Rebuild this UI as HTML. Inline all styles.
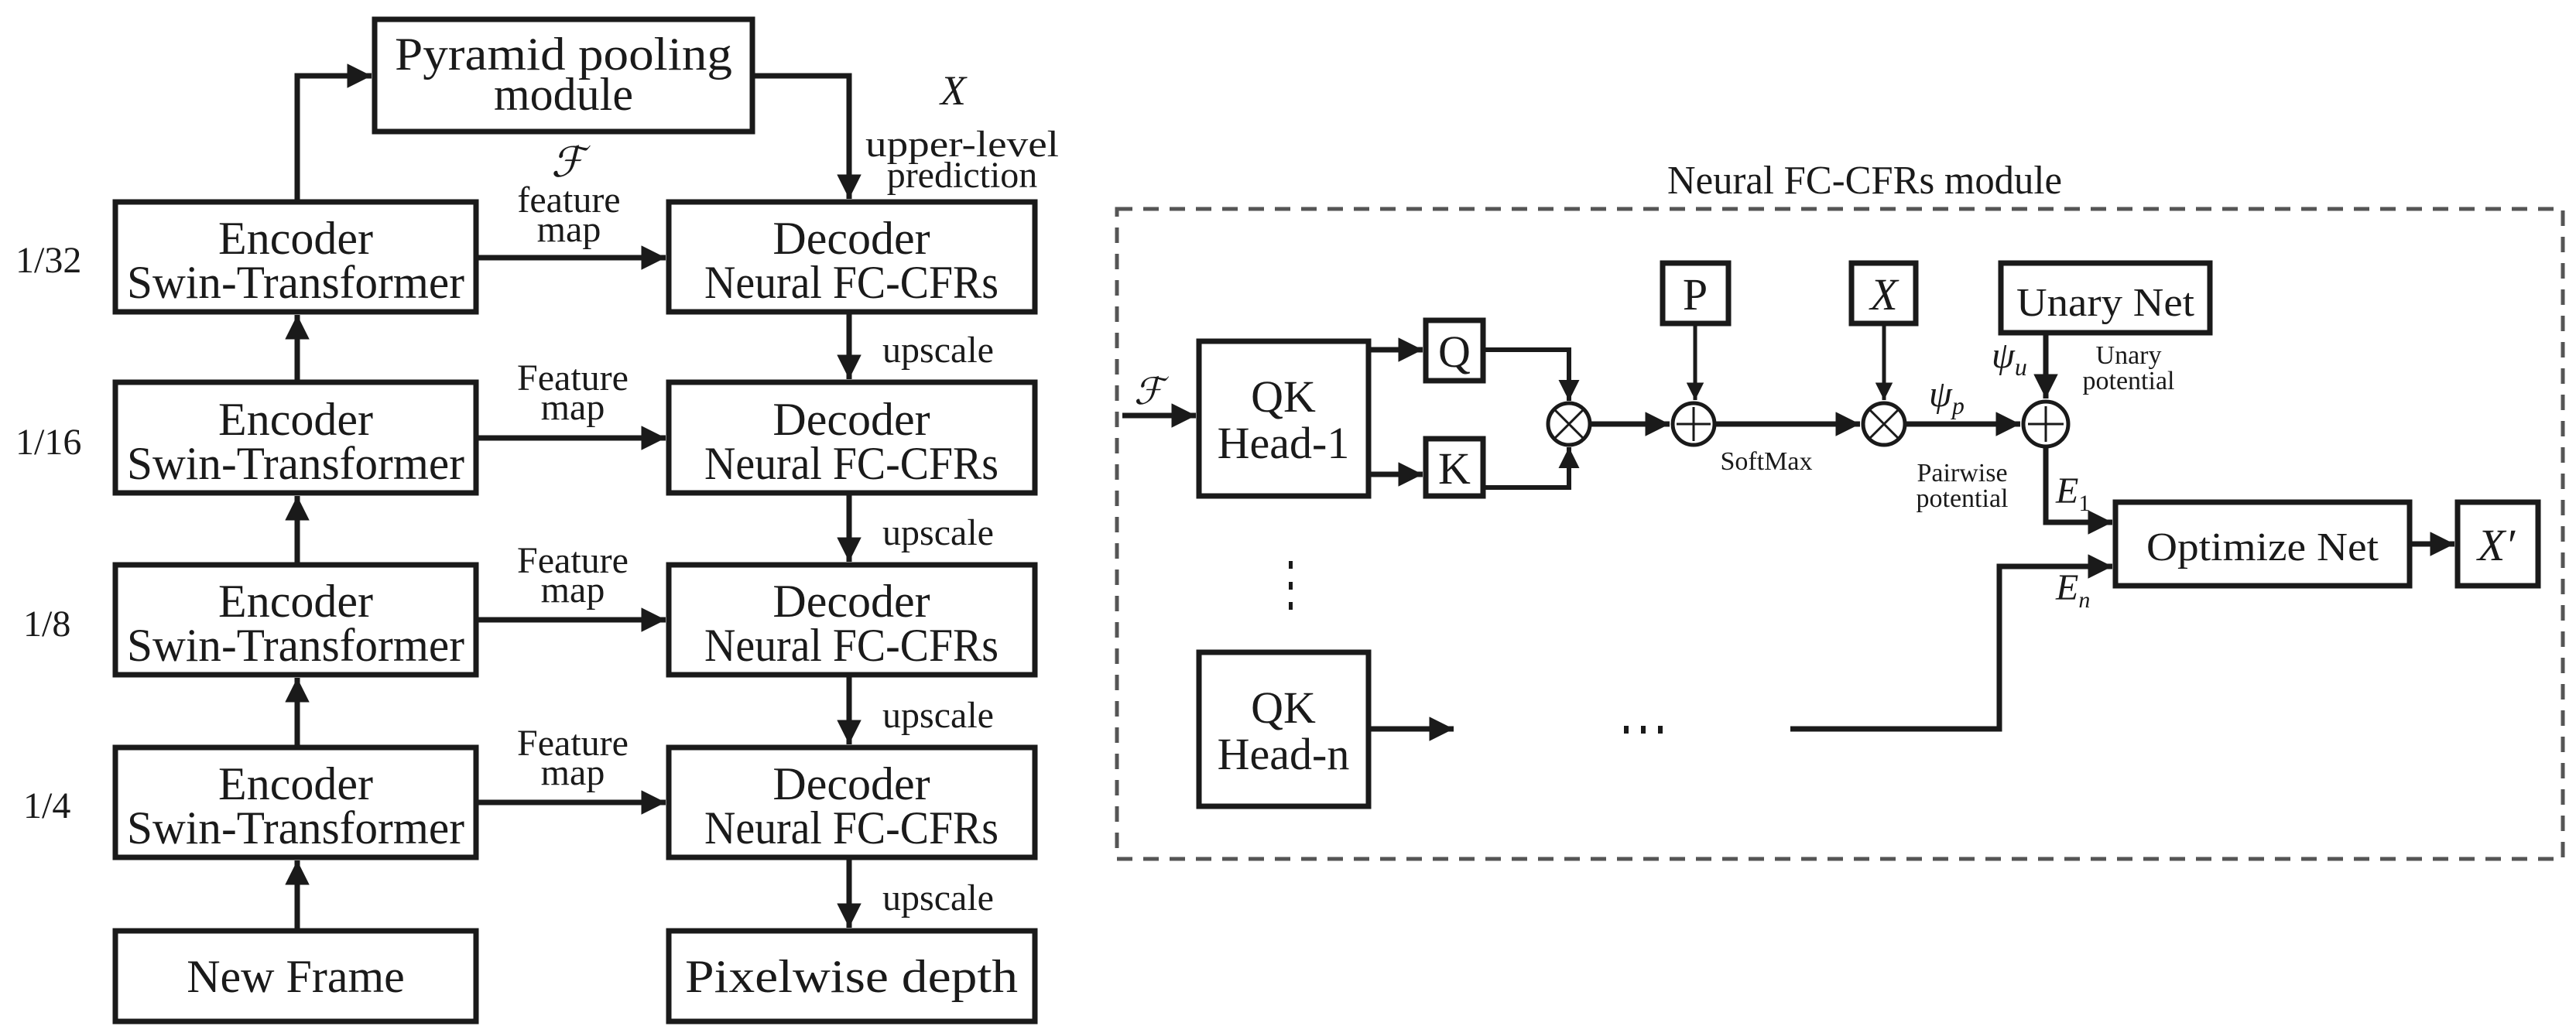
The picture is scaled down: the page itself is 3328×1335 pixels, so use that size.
<!DOCTYPE html>
<html><head><meta charset="utf-8"><style>
html,body{margin:0;padding:0;background:#fff;}
svg{display:block;}
text{font-family:"Liberation Serif",serif;fill:#1a1a1a;}
</style></head><body>
<svg width="3328" height="1335" viewBox="0 0 3328 1335" xmlns="http://www.w3.org/2000/svg">
<defs>
<marker id="a" viewBox="0 0 10 10" refX="10" refY="5" markerWidth="4.5" markerHeight="4.5" markerUnits="strokeWidth" orient="auto"><path d="M0,0 L10,5 L0,10 z" fill="#1a1a1a"/></marker>
</defs>
<g fill="none" stroke="#1a1a1a" stroke-width="7">
<rect x="484" y="25" width="488" height="145"/>
<rect x="149" y="261" width="466" height="142"/>
<rect x="149" y="494" width="466" height="143"/>
<rect x="149" y="730" width="466" height="142"/>
<rect x="149" y="966" width="466" height="142"/>
<rect x="149" y="1203" width="466" height="117"/>
<rect x="864" y="261" width="473" height="142"/>
<rect x="864" y="494" width="473" height="143"/>
<rect x="864" y="730" width="473" height="142"/>
<rect x="864" y="966" width="473" height="142"/>
<rect x="864" y="1203" width="473" height="117"/>
<path d="M384 261 V98 H480" marker-end="url(#a)"/>
<path d="M972 98 H1097 V257" marker-end="url(#a)"/>
<path d="M615 333 H860" marker-end="url(#a)"/>
<path d="M615 566 H860" marker-end="url(#a)"/>
<path d="M615 801 H860" marker-end="url(#a)"/>
<path d="M615 1037 H860" marker-end="url(#a)"/>
<path d="M384 494 V407" marker-end="url(#a)"/>
<path d="M384 730 V641" marker-end="url(#a)"/>
<path d="M384 966 V876" marker-end="url(#a)"/>
<path d="M384 1203 V1112" marker-end="url(#a)"/>
<path d="M1097 403 V490" marker-end="url(#a)"/>
<path d="M1097 637 V726" marker-end="url(#a)"/>
<path d="M1097 872 V962" marker-end="url(#a)"/>
<path d="M1097 1108 V1199" marker-end="url(#a)"/>
</g>
<rect x="1443" y="270" width="1868" height="840" fill="none" stroke="#555" stroke-width="5" stroke-dasharray="20,14"/>
<g fill="none" stroke="#1a1a1a" stroke-width="7">
<rect x="1549" y="441" width="219" height="200"/>
<rect x="1549" y="843" width="219" height="199"/>
<rect x="1842" y="414" width="74" height="78"/>
<rect x="1842" y="567" width="74" height="74"/>
<rect x="2148" y="340" width="85" height="78"/>
<rect x="2392" y="340" width="83" height="78"/>
<rect x="2585" y="340" width="270" height="90"/>
<rect x="2733" y="649" width="380" height="108"/>
<rect x="3175" y="649" width="104" height="108"/>
<circle cx="2027" cy="548" r="27" stroke-width="5"/>
<circle cx="2188" cy="548" r="27" stroke-width="5"/>
<circle cx="2434" cy="548" r="27" stroke-width="5"/>
<circle cx="2643" cy="548" r="29" stroke-width="5"/>
<path d="M1450 537 H1545" marker-end="url(#a)"/>
<path d="M1768 452 H1838" marker-end="url(#a)"/>
<path d="M1768 613 H1838" marker-end="url(#a)"/>
<path d="M1916 452 H2027 V518" stroke-width="6" marker-end="url(#a)"/>
<path d="M1916 630 H2027 V578" stroke-width="6" marker-end="url(#a)"/>
<path d="M2054 548 H2157" marker-end="url(#a)"/>
<path d="M2190 418 V517" stroke-width="5" marker-end="url(#a)"/>
<path d="M2215 548 H2403" marker-end="url(#a)"/>
<path d="M2434 418 V517" stroke-width="5" marker-end="url(#a)"/>
<path d="M2461 548 H2610" marker-end="url(#a)"/>
<path d="M2643 430 V515" marker-end="url(#a)"/>
<path d="M2643 577 V675 H2729" marker-end="url(#a)"/>
<path d="M2313 942 H2583 V732 H2729" marker-end="url(#a)"/>
<path d="M1768 942 H1878" marker-end="url(#a)"/>
<path d="M3113 703 H3171" marker-end="url(#a)"/>
</g>
<g stroke="#1a1a1a" stroke-width="3">
<path d="M2008 529 L2046 567 M2046 529 L2008 567"/>
<path d="M2415 529 L2453 567 M2453 529 L2415 567"/>
<path d="M2166 548 H2210 M2188 526 V570"/>
<path d="M2620 548 H2666 M2643 525 V571"/>
</g>
<g fill="#1a1a1a"><rect x="1665" y="725" width="5" height="10"/><rect x="1665" y="752" width="5" height="10"/><rect x="1665" y="778" width="5" height="10"/>
<rect x="2098" y="938" width="6" height="10"/><rect x="2120" y="938" width="6" height="10"/><rect x="2142" y="938" width="6" height="10"/></g>
<g text-anchor="middle" font-size="60">
<text x="728" y="90" textLength="436" lengthAdjust="spacingAndGlyphs">Pyramid pooling</text>
<text x="728" y="142">module</text>
<text x="382" y="328">Encoder</text><text x="382" y="385" textLength="436" lengthAdjust="spacingAndGlyphs">Swin-Transformer</text>
<text x="382" y="562">Encoder</text><text x="382" y="619" textLength="436" lengthAdjust="spacingAndGlyphs">Swin-Transformer</text>
<text x="382" y="797">Encoder</text><text x="382" y="854" textLength="436" lengthAdjust="spacingAndGlyphs">Swin-Transformer</text>
<text x="382" y="1033">Encoder</text><text x="382" y="1090" textLength="436" lengthAdjust="spacingAndGlyphs">Swin-Transformer</text>
<text x="382" y="1282">New Frame</text>
<text x="1100" y="328">Decoder</text><text x="1100" y="385" textLength="380" lengthAdjust="spacingAndGlyphs">Neural FC-CFRs</text>
<text x="1100" y="562">Decoder</text><text x="1100" y="619" textLength="380" lengthAdjust="spacingAndGlyphs">Neural FC-CFRs</text>
<text x="1100" y="797">Decoder</text><text x="1100" y="854" textLength="380" lengthAdjust="spacingAndGlyphs">Neural FC-CFRs</text>
<text x="1100" y="1033">Decoder</text><text x="1100" y="1090" textLength="380" lengthAdjust="spacingAndGlyphs">Neural FC-CFRs</text>
<text x="1100" y="1282" textLength="430" lengthAdjust="spacingAndGlyphs">Pixelwise depth</text>
</g>
<g font-size="48">
<text x="20" y="352">1/32</text><text x="20" y="587">1/16</text><text x="30" y="822">1/8</text><text x="30" y="1057">1/4</text>
</g>
<g text-anchor="middle" font-size="48">
<text x="735" y="274">feature</text><text x="735" y="312">map</text>
<text x="740" y="504">Feature</text><text x="740" y="542">map</text>
<text x="740" y="740">Feature</text><text x="740" y="778">map</text>
<text x="740" y="976">Feature</text><text x="740" y="1014">map</text>
<text x="1243" y="202" textLength="250" lengthAdjust="spacingAndGlyphs">upper-level</text>
<text x="1243" y="242">prediction</text>
<text x="1212" y="468">upscale</text><text x="1212" y="704">upscale</text><text x="1212" y="940">upscale</text><text x="1212" y="1176">upscale</text>
</g>
<text x="1215" y="135" font-size="54" font-style="italic" fill="#444">X</text>
<text x="712" y="228" font-size="54" font-style="italic" fill="#444">ℱ</text>
<text x="2409" y="250" text-anchor="middle" font-size="52" textLength="510" lengthAdjust="spacingAndGlyphs">Neural FC-CFRs module</text>
<g text-anchor="middle" font-size="58">
<text x="1658" y="532">QK</text><text x="1658" y="592">Head-1</text>
<text x="1658" y="934">QK</text><text x="1658" y="994">Head-n</text>
<text x="1879" y="474">Q</text><text x="1879" y="625">K</text>
<text x="2190" y="400">P</text>
<text x="2434" y="400" font-style="italic">X</text>
<text x="2720" y="408" font-size="52" textLength="230" lengthAdjust="spacingAndGlyphs">Unary Net</text>
<text x="2923" y="724" font-size="52" textLength="300" lengthAdjust="spacingAndGlyphs">Optimize Net</text>
<text x="3225" y="724" font-style="italic" fill="#444">X′</text>
</g>
<g font-size="34" text-anchor="middle">
<text x="2282" y="607">SoftMax</text>
<text x="2535" y="622">Pairwise</text><text x="2535" y="655">potential</text>
<text x="2750" y="470">Unary</text><text x="2750" y="503">potential</text>
</g>
<g font-style="italic" fill="#555" font-size="48">
<text x="1465" y="522">ℱ</text>
<text x="2492" y="525">ψ<tspan font-size="32" dy="10">p</tspan></text>
<text x="2573" y="475">ψ<tspan font-size="32" dy="10">u</tspan></text>
<text x="2656" y="650">E<tspan font-size="30" dy="10" font-style="normal">1</tspan></text>
<text x="2656" y="775">E<tspan font-size="30" dy="10">n</tspan></text>
</g>
</svg>
</body></html>
